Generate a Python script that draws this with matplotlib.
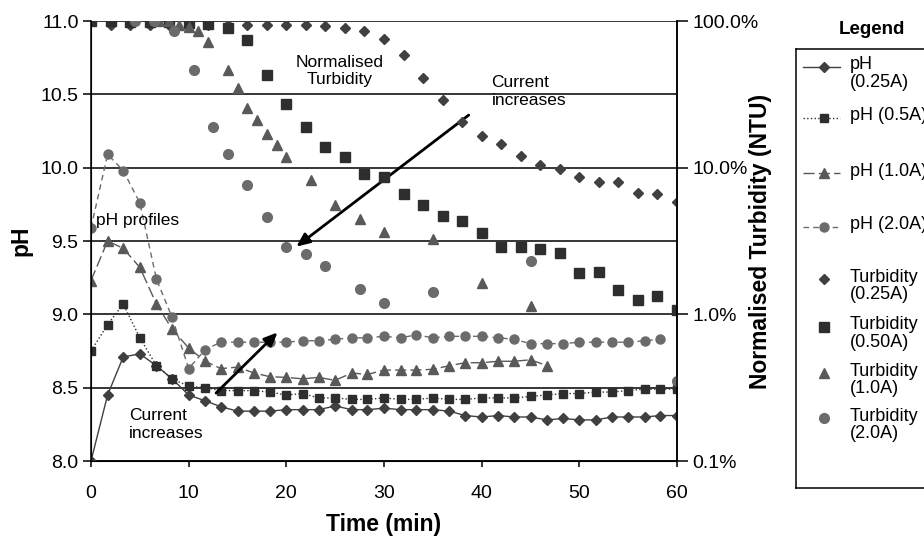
import matplotlib
matplotlib.use("Agg")
import matplotlib.pyplot as plt
from matplotlib.ticker import FixedLocator, FixedFormatter, NullLocator

plt.rcParams['font.family'] = ['Liberation Sans', 'DejaVu Sans']

# pH sampling times (min)
t_ph = [0, 1.7, 3.3, 5, 6.7, 8.3, 10, 11.7, 13.3, 15, 16.7, 18.3, 20, 21.7, 23.3, 25,
        26.7, 28.3, 30, 31.7, 33.3, 35, 36.7, 38.3, 40, 41.7, 43.3, 45, 46.7, 48.3, 50,
        51.7, 53.3, 55, 56.7, 58.3, 60]

ph_025 = [8.00, 8.45, 8.71, 8.73, 8.65, 8.56, 8.45, 8.41, 8.37, 8.34, 8.34, 8.34, 8.35,
          8.35, 8.35, 8.375, 8.35, 8.35, 8.36, 8.35, 8.35, 8.35, 8.34, 8.31, 8.30, 8.31,
          8.30, 8.30, 8.28, 8.29, 8.28, 8.28, 8.30, 8.30, 8.30, 8.31, 8.31]
ph_05 = [8.75, 8.93, 9.07, 8.84, 8.65, 8.56, 8.51, 8.50, 8.48, 8.48, 8.48, 8.47, 8.45,
         8.46, 8.43, 8.43, 8.42, 8.42, 8.43, 8.42, 8.42, 8.43, 8.42, 8.42, 8.43, 8.43,
         8.43, 8.44, 8.45, 8.46, 8.46, 8.47, 8.47, 8.48, 8.49, 8.49, 8.49]
ph_10 = [9.23, 9.50, 9.45, 9.32, 9.07, 8.90, 8.77, 8.68, 8.63, 8.64, 8.60, 8.575, 8.57,
         8.56, 8.57, 8.55, 8.60, 8.59, 8.62, 8.62, 8.62, 8.625, 8.65, 8.67, 8.67, 8.68,
         8.68, 8.69, 8.65]
ph_20 = [9.59, 10.09, 9.98, 9.76, 9.24, 8.98, 8.63, 8.76, 8.81, 8.81, 8.81, 8.81, 8.81,
         8.82, 8.82, 8.83, 8.84, 8.84, 8.85, 8.84, 8.86, 8.84, 8.85, 8.85, 8.85, 8.84,
         8.83, 8.80, 8.80, 8.80, 8.81, 8.81, 8.81, 8.81, 8.82, 8.83]

# normalised turbidity (%)
t_turb = [0, 2, 4, 6, 8, 10, 12, 14, 16, 18, 20, 22, 24, 26, 28, 30, 32, 34, 36, 38, 40,
          42, 44, 46, 48, 50, 52, 54, 56, 58, 60]
turb_025 = [100, 94, 94, 94, 94, 94, 94, 94, 94, 94, 94, 94, 93, 90, 85, 75, 59, 41, 29,
            20.6, 16.5, 14.5, 12, 10.5, 9.8, 8.7, 8.0, 8.0, 6.7, 6.6, 5.8]
turb_05 = [100, 100, 98, 99, 98, 97, 96, 90, 74, 43, 27, 19, 13.8, 11.8, 9.1, 8.7, 6.6,
           5.6, 4.7, 4.3, 3.6, 2.9, 2.9, 2.8, 2.6, 1.9, 1.95, 1.47, 1.26, 1.33, 1.07]
t_turb_10 = [7, 8, 9, 10, 11, 12, 14, 15, 16, 17, 18, 19, 20, 22.5, 25, 27.5, 30, 35, 40, 45]
turb_10 = [100, 100, 94, 91, 85, 72, 46, 35, 25.4, 21.2, 16.9, 14.2, 11.8, 8.2, 5.6, 4.5,
           3.66, 3.25, 1.64, 1.14]
t_turb_20 = [4.5, 6.5, 8.5, 10.5, 12.5, 14, 16, 18, 20, 22, 24, 27.5, 30, 35, 45, 60]
turb_20 = [100, 100, 85, 46, 19, 12.3, 7.6, 4.6, 2.9, 2.58, 2.15, 1.48, 1.19, 1.41, 2.3, 0.35]

c_dia = '#404040'
c_sq = '#2e2e2e'
c_tri = '#595959'
c_cir = '#6b6b6b'

fig = plt.figure(figsize=(9.24, 5.36), dpi=100)
ax = fig.add_axes([91 / 924, 1 - 461 / 536, 586 / 924, 440 / 536])

ax.plot(t_ph, ph_025, '-', color=c_dia, lw=1.0, marker='D', ms=5, zorder=3)
ax.plot(t_ph, ph_05, ':', color=c_sq, lw=1.0, marker='s', ms=6, zorder=3)
ax.plot(t_ph[:len(ph_10)], ph_10, color=c_tri, lw=1.0, dashes=(8, 3), marker='^', ms=7, zorder=3)
ax.plot(t_ph[:len(ph_20)], ph_20, color=c_cir, lw=1.0, dashes=(4, 3), marker='o', ms=6.5, zorder=3)

ax.set_xlim(0, 60)
ax.set_ylim(8, 11)
ax.set_xticks([0, 10, 20, 30, 40, 50, 60])
ax.set_yticks([8.0, 8.5, 9.0, 9.5, 10.0, 10.5, 11.0])
ax.set_yticklabels(['8.0', '8.5', '9.0', '9.5', '10.0', '10.5', '11.0'])
ax.yaxis.grid(True, color='black', lw=1.1)
ax.set_axisbelow(True)
ax.tick_params(axis='x', direction='out', length=4, width=1.1, labelsize=14, pad=13, colors='black')
ax.tick_params(axis='y', direction='out', length=6, width=1.1, labelsize=14, pad=3, colors='black')
for s in ['left', 'bottom', 'right']:
    ax.spines[s].set_linewidth(1.1)
ax.spines['top'].set_visible(False)
fig.text(384 / 924, 1 - 525 / 536, 'Time (min)', ha='center', va='center',
         fontsize=16.5, fontweight='bold')
fig.text(21 / 924, 1 - 241 / 536, 'pH', rotation=90, ha='center', va='center',
         fontsize=16.5, fontweight='bold')

ax2 = ax.twinx()
ax2.set_yscale('log')
ax2.set_ylim(0.1, 100)
ax2.plot(t_turb, turb_025, 'D', color=c_dia, ms=5.2, ls='none')
ax2.plot(t_turb, turb_05, 's', color=c_sq, ms=6.5, ls='none')
ax2.plot(t_turb_10, turb_10, '^', color=c_tri, ms=7.5, ls='none')
ax2.plot(t_turb_20, turb_20, 'o', color=c_cir, ms=7, ls='none')
ax2.yaxis.set_major_locator(FixedLocator([0.1, 1, 10, 100]))
ax2.yaxis.set_major_formatter(FixedFormatter(['0.1%', '1.0%', '10.0%', '100.0%']))
ax2.yaxis.set_minor_locator(NullLocator())
ax2.tick_params(axis='y', direction='out', length=8, width=1.1, labelsize=14, pad=3)
ax2.spines['top'].set_visible(False)
ax2.spines['right'].set_linewidth(1.1)
fig.text(760 / 924, 1 - 241 / 536, 'Normalised Turbidity (NTU)', rotation=90,
         ha='center', va='center', fontsize=16.5, fontweight='bold')

# annotations
ax.text(25.5, 10.66, 'Normalised\nTurbidity', ha='center', va='center', fontsize=12.5)
ax.text(41.0, 10.52, 'Current\nincreases', ha='left', va='center', fontsize=12.5)
ax.text(0.5, 9.64, 'pH profiles', ha='left', va='center', fontsize=12.5)
ax.text(3.9, 8.25, 'Current\nincreases', ha='left', va='center', fontsize=12.5)
ax.annotate('', xy=(20.8, 9.45), xytext=(38.9, 10.37),
            arrowprops=dict(arrowstyle='-|>,head_length=0.8,head_width=0.35', color='black', lw=2))
ax.annotate('', xy=(19.3, 8.89), xytext=(12.6, 8.45),
            arrowprops=dict(arrowstyle='-|>,head_length=0.8,head_width=0.35', color='black', lw=2))

# legend box drawn in pixel units
lax = fig.add_axes([796 / 924, 1 - 488 / 536, 150 / 924, 439 / 536])
lax.set_xlim(0, 150)
lax.set_ylim(439, 0)
lax.set_xticks([])
lax.set_yticks([])
for s in lax.spines.values():
    s.set_linewidth(1.1)
fig.text(872 / 924, 1 - 30 / 536, 'Legend', ha='center', va='center', fontsize=13.5, fontweight='bold')

leg_rows = [
    ('pH\n(0.25A)', 17.7, dict(color=c_dia, ls='-', marker='D', ms=5)),
    ('pH (0.5A)', 69, dict(color=c_sq, ls=':', marker='s', ms=6)),
    ('pH (1.0A)', 124.3, dict(color=c_tri, dashes=(8, 3), marker='^', ms=7)),
    ('pH (2.0A)', 177.7, dict(color=c_cir, dashes=(4, 3), marker='o', ms=6.5)),
    ('Turbidity\n(0.25A)', 230.3, dict(color=c_dia, ls='none', marker='D', ms=5.2)),
    ('Turbidity\n(0.50A)', 277.7, dict(color=c_sq, ls='none', marker='s', ms=6.5)),
    ('Turbidity\n(1.0A)', 324.3, dict(color=c_tri, ls='none', marker='^', ms=7.5)),
    ('Turbidity\n(2.0A)', 369.3, dict(color=c_cir, ls='none', marker='o', ms=7)),
]
for label, y, style in leg_rows:
    lax.plot([7, 44], [y, y], lw=1.0, markevery=[], **style)
    lax.plot([28], [y], **{k: v for k, v in style.items() if k not in ('ls', 'dashes')}, ls='none')
    lax.text(54, y - 10.5, label, ha='left', va='top', fontsize=13, linespacing=1.05)

fig.savefig('out.png', dpi=100)
